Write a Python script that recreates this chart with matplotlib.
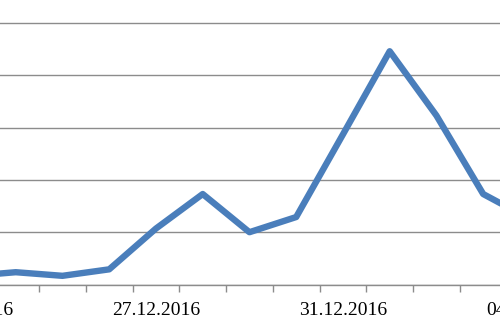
import matplotlib
matplotlib.use("Agg")
import matplotlib.pyplot as plt
import numpy as np

dates = ["23.12.2016", "24.12.2016", "25.12.2016", "26.12.2016", "27.12.2016",
         "28.12.2016", "29.12.2016", "30.12.2016", "31.12.2016", "01.01.2017",
         "02.01.2017", "03.01.2017", "04.01.2017"]
values = [1.6, 2.35, 1.66, 2.9, 10.7, 17.3, 10.0, 12.9, 28.7, 44.6, 32.3, 17.3, 12.5]
yticks = [0, 10, 20, 30, 40, 50, 60]

W, H = 500, 330
fig = plt.figure(figsize=(W / 100, H / 100), dpi=100)
fig.patch.set_facecolor("white")

# axes extends beyond the visible figure (reference is a crop)
left_px, right_px = -54.4, 553.3
bottom_px = 45.5
height_px = 6 * 52.3
ax = fig.add_axes([left_px / W, bottom_px / H, (right_px - left_px) / W, height_px / H])

x = np.arange(len(dates))
ax.plot(x, values, color="#4a7ebb", lw=4.6, solid_joinstyle="round", solid_capstyle="round", zorder=3)

ax.set_xlim(-0.5, len(dates) - 0.5)
ax.set_ylim(yticks[0], yticks[-1])
ax.set_yticks(yticks)
ax.yaxis.grid(True, color="#8c8c8c", lw=1.0)
ax.set_axisbelow(True)
ax.tick_params(axis="y", left=False, labelleft=False)

for s in ["top", "right", "left"]:
    ax.spines[s].set_visible(False)
ax.spines["bottom"].set_color("#8c8c8c")
ax.spines["bottom"].set_linewidth(1.0)

# major ticks: labels every 4 categories (no tick mark); minor: tick marks at boundaries
ax.set_xticks(x[::4])
ax.set_xticklabels([dates[i] for i in range(0, len(dates), 4)],
                   fontfamily="Liberation Serif", fontsize=14)
ax.tick_params(axis="x", which="major", length=0, pad=12.5)
ax.set_xticks(np.arange(-0.5, len(dates), 1.0), minor=True)
ax.tick_params(axis="x", which="minor", length=5, width=1.0, color="#8c8c8c", direction="out")

fig.savefig("out.png", dpi=100)
